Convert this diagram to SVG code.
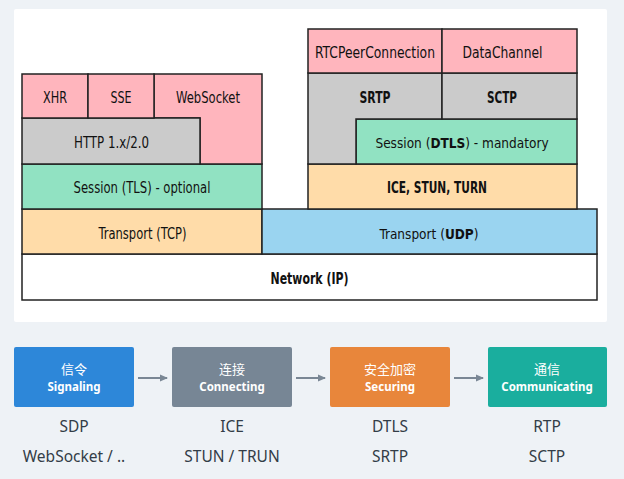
<svg xmlns="http://www.w3.org/2000/svg" width="624" height="479" viewBox="0 0 624 479">
<defs>
<style>
.l{stroke:#222;stroke-width:1.5}
.pk{fill:#FFB5BD}.gy{fill:#CBCBCB}.gr{fill:#91E2C2}.pe{fill:#FFDCA9}.bl{fill:#9AD4F0}.wh{fill:#fff}
.t{font-family:"DejaVu Sans Condensed","Liberation Sans Narrow","Liberation Sans",sans-serif;font-size:15px;fill:#111;text-anchor:middle}
.m{font-size:13.5px}
.b{font-weight:bold}
.bx{font-family:"Noto Sans","Noto Sans CJK SC",sans-serif;fill:#fff;text-anchor:middle;font-size:13px}
.en{font-size:11.5px;font-weight:bold}
.sub{font-family:"Noto Sans",sans-serif;fill:#333d47;text-anchor:middle;font-size:15.5px}
.ar{stroke:#7a8795;stroke-width:2;fill:none}
</style>
<marker id="ah" markerWidth="8" markerHeight="8" refX="7" refY="4" orient="auto" markerUnits="userSpaceOnUse">
<path d="M0,0.5 L8,4 L0,7.5 Z" fill="#7a8795"/>
</marker>
</defs>
<rect width="624" height="479" fill="#EEF2F6"/>
<rect x="14" y="9" width="593" height="313" rx="2" fill="#fff"/>

<g id="network"><rect class="l wh" x="22" y="254" width="575" height="46"/><text class="t b" x="309.5" y="284" textLength="78" lengthAdjust="spacingAndGlyphs">Network (IP)</text></g>
<g id="tcp"><rect class="l pe" x="22" y="209" width="240" height="45"/><text class="t" x="142.5" y="239" textLength="88" lengthAdjust="spacingAndGlyphs">Transport (TCP)</text></g>
<g id="udp"><rect class="l bl" x="262" y="209" width="335" height="45"/><text class="t m" x="429" y="239">Transport (<tspan class="b">UDP</tspan>)</text></g>
<g id="tls"><rect class="l gr" x="22" y="164" width="240" height="45"/><text class="t" x="142" y="193" textLength="137" lengthAdjust="spacingAndGlyphs">Session (TLS) - optional</text></g>
<g id="websocket"><path class="l pk" d="M154,74 H262 V164 H200 V118 H154 Z"/><text class="t" x="208" y="103" textLength="64" lengthAdjust="spacingAndGlyphs">WebSocket</text></g>
<g id="http"><rect class="l gy" x="22" y="118" width="178" height="46"/><text class="t" x="111.5" y="148" textLength="75" lengthAdjust="spacingAndGlyphs">HTTP 1.x/2.0</text></g>
<g id="xhr"><rect class="l pk" x="22" y="74" width="66" height="44"/><text class="t" x="55" y="103" textLength="24" lengthAdjust="spacingAndGlyphs">XHR</text></g>
<g id="sse"><rect class="l pk" x="88" y="74" width="66" height="44"/><text class="t" x="121" y="103" textLength="21" lengthAdjust="spacingAndGlyphs">SSE</text></g>

<g id="ice"><rect class="l pe" x="308" y="164" width="269" height="45"/><text class="t b" x="437" y="193" textLength="100" lengthAdjust="spacingAndGlyphs">ICE, STUN, TURN</text></g>
<g id="dtls"><rect class="l gr" x="356" y="119" width="221" height="45"/><text class="t m" x="462" y="148">Session (<tspan class="b">DTLS</tspan>) - mandatory</text></g>
<g id="srtp"><path class="l gy" d="M308,73 H442 V119 H356 V164 H308 Z"/><text class="t b" x="375" y="103" textLength="31" lengthAdjust="spacingAndGlyphs">SRTP</text></g>
<g id="sctp"><rect class="l gy" x="442" y="73" width="135" height="46"/><text class="t b" x="502" y="103" textLength="30" lengthAdjust="spacingAndGlyphs">SCTP</text></g>
<g id="rtcpeer"><rect class="l pk" x="308" y="29" width="134" height="44"/><text class="t" x="375" y="58" textLength="120" lengthAdjust="spacingAndGlyphs">RTCPeerConnection</text></g>
<g id="datachannel"><rect class="l pk" x="442" y="29" width="135" height="44"/><text class="t" x="502.5" y="58" textLength="80" lengthAdjust="spacingAndGlyphs">DataChannel</text></g>

<g id="connectors">
<line class="ar" x1="138" y1="378" x2="167" y2="378" marker-end="url(#ah)"/>
<line class="ar" x1="296" y1="378" x2="325" y2="378" marker-end="url(#ah)"/>
<line class="ar" x1="454" y1="378" x2="483" y2="378" marker-end="url(#ah)"/>
</g>

<g id="signaling"><rect x="14" y="347" width="120" height="60" rx="2" fill="#2D87D9"/><text class="bx" x="74" y="374">信令</text><text class="bx en" x="74" y="391">Signaling</text><text class="sub" x="74" y="432">SDP</text><text class="sub" x="74" y="462">WebSocket / ..</text></g>
<g id="connecting"><rect x="172" y="347" width="120" height="60" rx="2" fill="#778695"/><text class="bx" x="232" y="374">连接</text><text class="bx en" x="232" y="391">Connecting</text><text class="sub" x="232" y="432">ICE</text><text class="sub" x="232" y="462">STUN / TRUN</text></g>
<g id="securing"><rect x="330" y="347" width="120" height="60" rx="2" fill="#E8863B"/><text class="bx" x="390" y="374">安全加密</text><text class="bx en" x="390" y="391">Securing</text><text class="sub" x="390" y="432">DTLS</text><text class="sub" x="390" y="462">SRTP</text></g>
<g id="communicating"><rect x="488" y="347" width="119" height="60" rx="2" fill="#1AAE9E"/><text class="bx" x="547" y="374">通信</text><text class="bx en" x="547" y="391">Communicating</text><text class="sub" x="547" y="432">RTP</text><text class="sub" x="547" y="462">SCTP</text></g>
</svg>
